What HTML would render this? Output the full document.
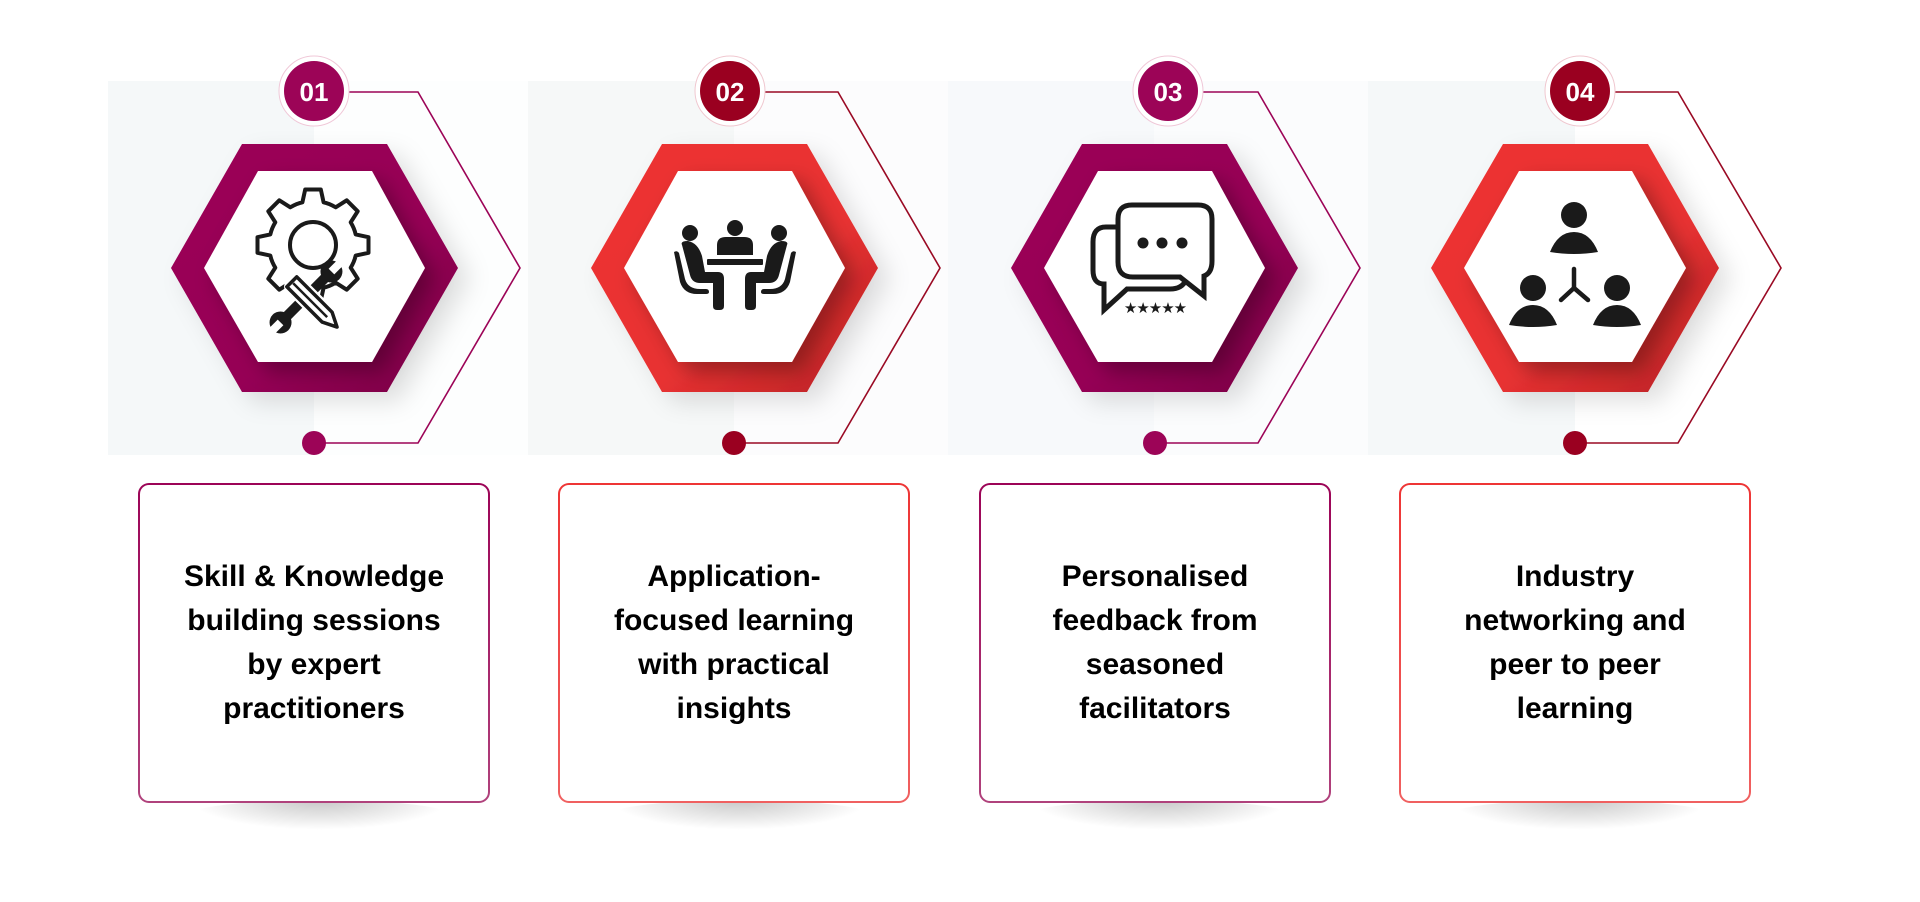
<!DOCTYPE html>
<html><head><meta charset="utf-8">
<style>
html,body{margin:0;padding:0;background:#fff;}
body{width:1920px;height:902px;position:relative;overflow:hidden;font-family:"Liberation Sans",Arial,sans-serif;}
svg{position:absolute;left:0;top:0;}
.box{position:absolute;top:483px;width:352px;height:320px;box-sizing:border-box;border:2px solid transparent;border-radius:11px;display:flex;align-items:center;justify-content:center;text-align:center;font-weight:bold;font-size:30px;line-height:44px;color:#000;}
.p{background:linear-gradient(#fff,#fff) padding-box,linear-gradient(#9c0457,#b0427c) border-box;}
.r{background:linear-gradient(#fff,#fff) padding-box,linear-gradient(#ee3535,#f06060) border-box;}
.sh{position:absolute;top:800px;width:260px;height:30px;border-radius:50%;background:radial-gradient(ellipse at center top,rgba(0,0,0,0.22),rgba(0,0,0,0) 70%);}
</style></head><body>
<div class="sh" style="left:190px"></div>
<div class="sh" style="left:610px"></div>
<div class="sh" style="left:1030px"></div>
<div class="sh" style="left:1450px"></div>
<svg width="1920" height="902" viewBox="0 0 1920 902" xmlns="http://www.w3.org/2000/svg">
<defs>
<linearGradient id="gp" x1="0" y1="0" x2="1" y2="1"><stop offset="0" stop-color="#9c0457"/><stop offset="0.6" stop-color="#960355"/><stop offset="1" stop-color="#7a0045"/></linearGradient>
<linearGradient id="gr" x1="0" y1="0" x2="1" y2="1"><stop offset="0" stop-color="#ee3333"/><stop offset="0.6" stop-color="#e83131"/><stop offset="1" stop-color="#b82225"/></linearGradient>
<filter id="ds" x="-30%" y="-30%" width="160%" height="160%"><feDropShadow dx="10" dy="10" stdDeviation="10" flood-color="#000" flood-opacity="0.3"/></filter>
<filter id="ds2" x="-30%" y="-30%" width="160%" height="160%"><feDropShadow dx="12" dy="10" stdDeviation="12" flood-color="#000" flood-opacity="0.12"/></filter>
</defs>
<rect x="108" y="81" width="206" height="374" fill="#f5f8f9"/>
<rect x="314" y="81" width="214" height="374" fill="#fdfefe"/>
<rect x="528" y="81" width="206" height="374" fill="#f6f8f8"/>
<rect x="734" y="81" width="214" height="374" fill="#fcfcfd"/>
<rect x="948" y="81" width="206" height="374" fill="#f7f9fb"/>
<rect x="1154" y="81" width="214" height="374" fill="#fbfcfd"/>
<rect x="1368" y="81" width="207" height="374" fill="#f5f8f9"/>

<g>
<polyline points="349,92 418,92 520,268 418,443 314,443" fill="none" stroke="#9c0457" stroke-width="1.6"/>
<circle cx="314" cy="443" r="12" fill="#9c0457"/>
<circle cx="314" cy="91" r="35" fill="#fff" stroke="#f0c8d8" stroke-width="1"/>
<circle cx="314" cy="91" r="30" fill="#9c0457"/>
<text x="314" y="101" text-anchor="middle" font-family="Liberation Sans,Arial,sans-serif" font-weight="bold" font-size="26" fill="#fff">01</text>
<polygon points="171,268 242,144 387,144 458,268 387,392 242,392" fill="url(#gp)" filter="url(#ds2)"/>
<polygon points="204,268 258,171 372,171 425,268 372,362 258,362" fill="#fff" filter="url(#ds)"/>
</g>
<g>
<polyline points="765,92 838,92 940,268 838,443 734,443" fill="none" stroke="#9a0a24" stroke-width="1.6"/>
<circle cx="734" cy="443" r="12" fill="#9a0020"/>
<circle cx="730" cy="91" r="35" fill="#fff" stroke="#f0c8d0" stroke-width="1"/>
<circle cx="730" cy="91" r="30" fill="#9a0020"/>
<text x="730" y="101" text-anchor="middle" font-family="Liberation Sans,Arial,sans-serif" font-weight="bold" font-size="26" fill="#fff">02</text>
<polygon points="591,268 662,144 807,144 878,268 807,392 662,392" fill="url(#gr)" filter="url(#ds2)"/>
<polygon points="624,268 678,171 792,171 845,268 792,362 678,362" fill="#fff" filter="url(#ds)"/>
</g>
<g>
<polyline points="1203,92 1258,92 1360,268 1258,443 1154,443" fill="none" stroke="#9c0457" stroke-width="1.6"/>
<circle cx="1155" cy="443" r="12" fill="#9c0457"/>
<circle cx="1168" cy="91" r="35" fill="#fff" stroke="#f0c8d8" stroke-width="1"/>
<circle cx="1168" cy="91" r="30" fill="#9c0457"/>
<text x="1168" y="101" text-anchor="middle" font-family="Liberation Sans,Arial,sans-serif" font-weight="bold" font-size="26" fill="#fff">03</text>
<polygon points="1011,268 1082,144 1227,144 1298,268 1227,392 1082,392" fill="url(#gp)" filter="url(#ds2)"/>
<polygon points="1044,268 1098,171 1212,171 1265,268 1212,362 1098,362" fill="#fff" filter="url(#ds)"/>
</g>
<g>
<polyline points="1615,92 1678,92 1781,268 1678,443 1575,443" fill="none" stroke="#9a0a24" stroke-width="1.6"/>
<circle cx="1575" cy="443" r="12" fill="#9a0020"/>
<circle cx="1580" cy="91" r="35" fill="#fff" stroke="#f0c8d0" stroke-width="1"/>
<circle cx="1580" cy="91" r="30" fill="#9a0020"/>
<text x="1580" y="101" text-anchor="middle" font-family="Liberation Sans,Arial,sans-serif" font-weight="bold" font-size="26" fill="#fff">04</text>
<polygon points="1431,268 1503,144 1648,144 1719,268 1648,392 1503,392" fill="url(#gr)" filter="url(#ds2)"/>
<polygon points="1464,268 1519,171 1632,171 1686,268 1632,362 1519,362" fill="#fff" filter="url(#ds)"/>
</g>

<!-- icon 1: gear + tools -->
<g stroke="#1a1a1a" stroke-width="4" fill="#fff" stroke-linejoin="round">
<polygon id="gear" points="313,189"/>
<circle cx="313" cy="245" r="23"/>
<g transform="translate(306,297) rotate(-45)">
<rect x="-34" y="-5" width="68" height="10" fill="#1a1a1a" stroke="none"/>
<circle cx="-36" cy="0" r="11" fill="#1a1a1a" stroke="none"/>
<circle cx="36" cy="0" r="11" fill="#1a1a1a" stroke="none"/>
<rect x="-50" y="-4" width="14" height="8" fill="#fff" stroke="none"/>
<rect x="36" y="-4" width="14" height="8" fill="#fff" stroke="none"/>
</g>
<g transform="translate(313,303) rotate(45)">
<rect x="-30" y="-7" width="50" height="14" rx="3" fill="#fff" stroke="#fff" stroke-width="8"/>
<path d="M-30,-7 L20,-7 L34,0 L20,7 L-30,7 Z" fill="#fff" stroke="#1a1a1a" stroke-width="3.5"/>
<line x1="-28" y1="0" x2="20" y2="0" stroke-width="2.5"/>
</g>
</g>

<g fill="#1a1a1a">
<circle cx="735" cy="228" r="8"/>
<circle cx="690" cy="233" r="8"/>
<circle cx="779" cy="233" r="8"/>
<path d="M717,255 L717,245 Q717,237 726,237 L744,237 Q753,237 753,245 L753,255 Z"/>
<rect x="707" y="259" width="56" height="6" rx="1"/>
<path d="M682,245 Q680,241 688,241 Q698,243 702,256 L705,272 L718,272 Q724,272 724,279 L724,306 Q724,310 720,310 L717,310 Q713,310 713,306 L713,283 L700,283 Q692,283 690,275 Z"/>
<path d="M787,245 Q789,241 781,241 Q771,243 767,256 L764,272 L751,272 Q745,272 745,279 L745,306 Q745,310 749,310 L752,310 Q756,310 756,306 L756,283 L769,283 Q777,283 779,275 Z"/>
<path d="M674,252 Q677,250 679,253 L685,279 Q688,289 700,289 L706,289 Q709,289 709,292 Q709,294 706,294 L697,294 Q684,294 680,282 Z"/>
<path d="M796,252 Q793,250 791,253 L785,279 Q782,289 770,289 L764,289 Q761,289 761,292 Q761,294 764,294 L773,294 Q786,294 790,282 Z"/>
</g>

<g fill="none" stroke="#1a1a1a" stroke-width="5" stroke-linejoin="miter">
<path d="M1118,227 L1106,227 Q1093,227 1093,242 L1093,270 Q1093,284 1104,284 L1104,310 L1127,289 L1170,289 Q1182,289 1186,280"/>
<path d="M1132,205 L1198,205 Q1212,205 1212,219 L1212,261 Q1212,273 1204,276 L1204,296 L1180,277 L1133,277 Q1118,277 1118,262 L1118,219 Q1118,205 1132,205 Z" fill="#fff"/>
</g>
<g fill="#1a1a1a">
<circle cx="1143" cy="243" r="5.5"/><circle cx="1162" cy="243" r="5.5"/><circle cx="1182" cy="243" r="5.5"/>
<text x="1155" y="313" text-anchor="middle" font-family="DejaVu Sans,sans-serif" font-size="15" letter-spacing="-1">★★★★★</text>
</g>

<g fill="#1a1a1a">
<circle cx="1574" cy="215" r="13"/>
<path d="M1550,252 Q1558,232 1574,232 Q1590,232 1598,252 Q1574,256 1550,252 Z"/>
<circle cx="1533" cy="288" r="13"/>
<path d="M1509,325 Q1517,305 1533,305 Q1549,305 1557,325 Q1533,329 1509,325 Z"/>
<circle cx="1617" cy="288" r="13"/>
<path d="M1593,325 Q1601,305 1617,305 Q1633,305 1641,325 Q1617,329 1593,325 Z"/>
</g>
<g stroke="#1a1a1a" stroke-width="4.5" stroke-linecap="round" fill="none">
<line x1="1574" y1="269" x2="1574" y2="288"/>
<line x1="1574" y1="288" x2="1561" y2="300"/>
<line x1="1574" y1="288" x2="1588" y2="300"/>
</g>
</svg>

<div class="box p" style="left:138px"><div>Skill &amp; Knowledge<br>building sessions<br>by expert<br>practitioners</div></div>
<div class="box r" style="left:558px"><div>Application-<br>focused learning<br>with practical<br>insights</div></div>
<div class="box p" style="left:979px"><div>Personalised<br>feedback from<br>seasoned<br>facilitators</div></div>
<div class="box r" style="left:1399px"><div>Industry<br>networking and<br>peer to peer<br>learning</div></div>
<script>
(function(){
var cx=313,cy=245,pts=[];
for(var i=0;i<8;i++){
 var a=(i*45-90)*Math.PI/180, d=Math.PI/180;
 var seq=[[a-14*d,44],[a-8*d,56],[a+8*d,56],[a+14*d,44]];
 seq.forEach(function(p){pts.push((cx+p[1]*Math.cos(p[0])).toFixed(1)+","+(cy+p[1]*Math.sin(p[0])).toFixed(1));});
 for(var k=1;k<4;k++){var b=a+14*d+k*(17*d/4)*1;pts.push((cx+44*Math.cos(b)).toFixed(1)+","+(cy+44*Math.sin(b)).toFixed(1));}
}
document.getElementById("gear").setAttribute("points",pts.join(" "));
})();
</script>
</body></html>
